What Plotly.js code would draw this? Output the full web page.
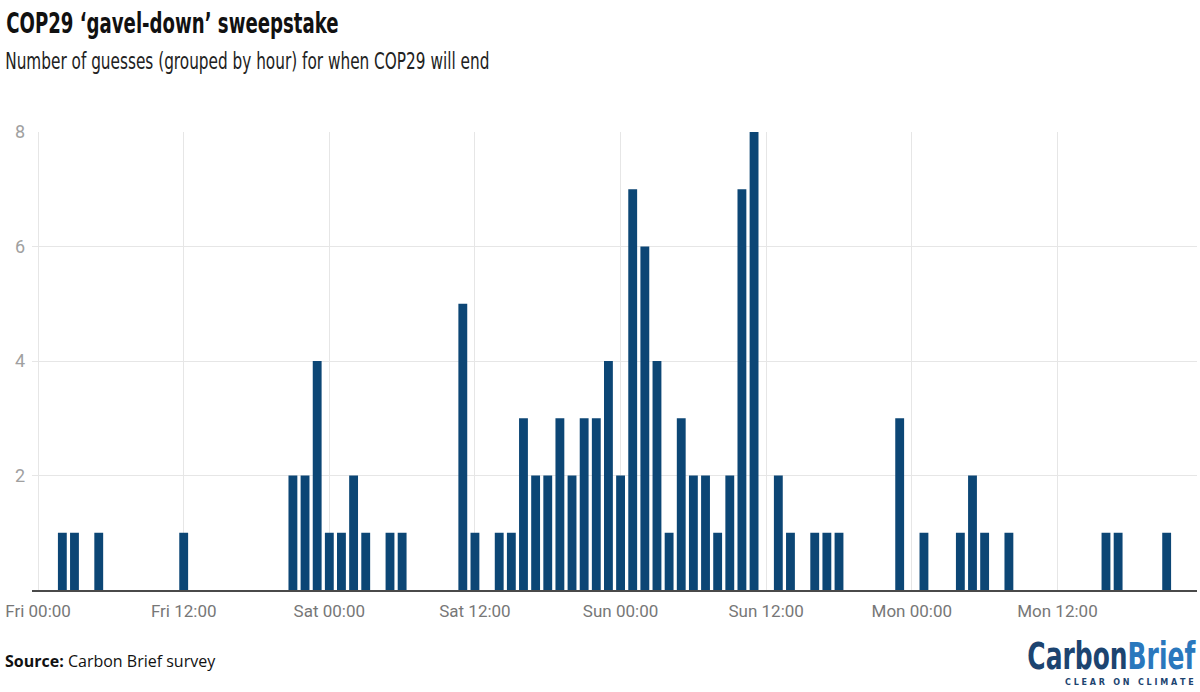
<!DOCTYPE html>
<html>
<head>
<meta charset="utf-8">
<script src="https://cdn.plot.ly/plotly-3.0.1.min.js"></script>
<style>
  html, body { margin: 0; padding: 0; background: #fff; }
  #chart { width: 1200px; height: 692px; }
</style>
</head>
<body>
<div id="chart"></div>
<script>
/* ----- Data: guesses grouped by hour ------- */
var hours = [
    '2024-11-22 02:00', '2024-11-22 03:00', '2024-11-22 05:00', '2024-11-22 12:00',
    '2024-11-22 21:00', '2024-11-22 22:00', '2024-11-22 23:00',
    '2024-11-23 00:00', '2024-11-23 01:00', '2024-11-23 02:00', '2024-11-23 03:00',
    '2024-11-23 05:00', '2024-11-23 06:00', '2024-11-23 11:00', '2024-11-23 12:00',
    '2024-11-23 14:00', '2024-11-23 15:00', '2024-11-23 16:00', '2024-11-23 17:00',
    '2024-11-23 18:00', '2024-11-23 19:00', '2024-11-23 20:00', '2024-11-23 21:00',
    '2024-11-23 22:00', '2024-11-23 23:00',
    '2024-11-24 00:00', '2024-11-24 01:00', '2024-11-24 02:00', '2024-11-24 03:00',
    '2024-11-24 04:00', '2024-11-24 05:00', '2024-11-24 06:00', '2024-11-24 07:00',
    '2024-11-24 08:00', '2024-11-24 09:00', '2024-11-24 10:00', '2024-11-24 11:00',
    '2024-11-24 13:00', '2024-11-24 14:00', '2024-11-24 16:00', '2024-11-24 17:00',
    '2024-11-24 18:00', '2024-11-24 23:00',
    '2024-11-25 01:00', '2024-11-25 04:00', '2024-11-25 05:00', '2024-11-25 06:00',
    '2024-11-25 08:00', '2024-11-25 16:00', '2024-11-25 17:00', '2024-11-25 21:00'
];
var guesses = [
    1, 1, 1, 1,
    2, 2, 4,
    1, 1, 2, 1,
    1, 1, 5, 1,
    1, 1, 3, 2,
    2, 3, 2, 3,
    3, 4,
    2, 7, 6, 4,
    1, 3, 2, 2,
    1, 2, 7, 8,
    2, 1, 1, 1,
    1, 3,
    1, 1, 2, 1,
    1, 1, 1, 1
];
var xRange = ['2024-11-21 23:30', '2024-11-25 23:30'];
var yTicks = [2, 4, 6, 8];

/* ----- Styles ------- */
const HOUR = 3600000;
var barColor = '#0c4675';
var narrow = '"DejaVu Sans Condensed", "DejaVu Sans", sans-serif';

var bars = {
    type: 'bar',
    x: hours,
    y: guesses,
    width: hours.map(function() { return 0.73 * HOUR; }),
    marker: {color: barColor, line: {width: 0}},
    hoverinfo: 'none'
};

var layout = {
    width: 1200,
    height: 692,
    paper_bgcolor: '#ffffff',
    plot_bgcolor: '#ffffff',
    showlegend: false,
    margin: {l: 32, r: 3, t: 132, b: 102},
    font: {family: 'Roboto, sans-serif'},
    xaxis: {
        type: 'date',
        range: xRange,
        tick0: '2024-11-22 00:00',
        dtick: 12 * HOUR,
        tickformat: '%a %H:%M',
        showgrid: true,
        gridcolor: '#e6e6e6',
        gridwidth: 1,
        showline: true,
        linecolor: '#4a4a4a',
        linewidth: 2,
        ticks: '',
        ticklabelstandoff: 5,
        tickfont: {family: 'Roboto, sans-serif', size: 17, color: '#777777'},
        fixedrange: true
    },
    yaxis: {
        range: [0, 8],
        tickvals: yTicks,
        showgrid: true,
        gridcolor: '#e6e6e6',
        gridwidth: 1,
        zeroline: false,
        showline: false,
        ticks: '',
        ticklabelstandoff: 6,
        tickfont: {family: 'Roboto, sans-serif', size: 18, color: '#a0a0a0'},
        fixedrange: true
    },
    annotations: [
        {
            xref: 'paper', yref: 'paper', x: -0.024, y: 1.236,
            xanchor: 'left', yanchor: 'middle', showarrow: false,
            text: '<b>COP29 \u2018gavel-down\u2019 sweepstake</b>',
            font: {family: narrow, size: 28, color: '#111111'}
        },
        {
            xref: 'paper', yref: 'paper', x: -0.025, y: 1.155,
            xanchor: 'left', yanchor: 'middle', showarrow: false,
            text: 'Number of guesses (grouped by hour) for when COP29 will end',
            font: {family: narrow, size: 23, color: '#222222'}
        },
        {
            xref: 'paper', yref: 'paper', x: -0.025, y: -0.154,
            xanchor: 'left', yanchor: 'middle', showarrow: false,
            text: '<b>Source:</b> Carbon Brief survey',
            font: {family: '"Open Sans", sans-serif', size: 16, color: '#111111'}
        },
        {
            xref: 'paper', yref: 'paper', x: 1, y: -0.146,
            xanchor: 'right', yanchor: 'middle', showarrow: false,
            text: '<b><span style="color:#1c4470">Carbon</span><span style="color:#2a78bd">Brief</span></b>',
            font: {family: narrow, size: 37}
        },
        {
            xref: 'paper', yref: 'paper', x: 0.9995, y: -0.201,
            xanchor: 'right', yanchor: 'middle', showarrow: false,
            text: '<b>C L E A R   O N   C L I M A T E</b>',
            font: {family: 'DejaVu Sans, sans-serif', size: 8, color: '#1c4470'}
        }
    ]
};

// horizontal squeeze per annotation, to get the condensed look of the original
var squeeze = [0.72, 0.74, 1, 0.75, 1];
var squeezeOrigin = ['left', 'left', 'left', 'right', 'right'];

var graph = document.getElementById('chart');
Plotly.newPlot(graph, [bars], layout, {staticPlot: true, displayModeBar: false}).then(function() {
    var texts = graph.querySelectorAll('.annotation-text');
    texts.forEach(function(t, i) {
        if (squeeze[i] === 1) return;
        t.style.transformBox = 'fill-box';
        t.style.transformOrigin = squeezeOrigin[i] + ' center';
        t.style.transform = 'scaleX(' + squeeze[i] + ')';
    });
});
</script>
</body>
</html>
